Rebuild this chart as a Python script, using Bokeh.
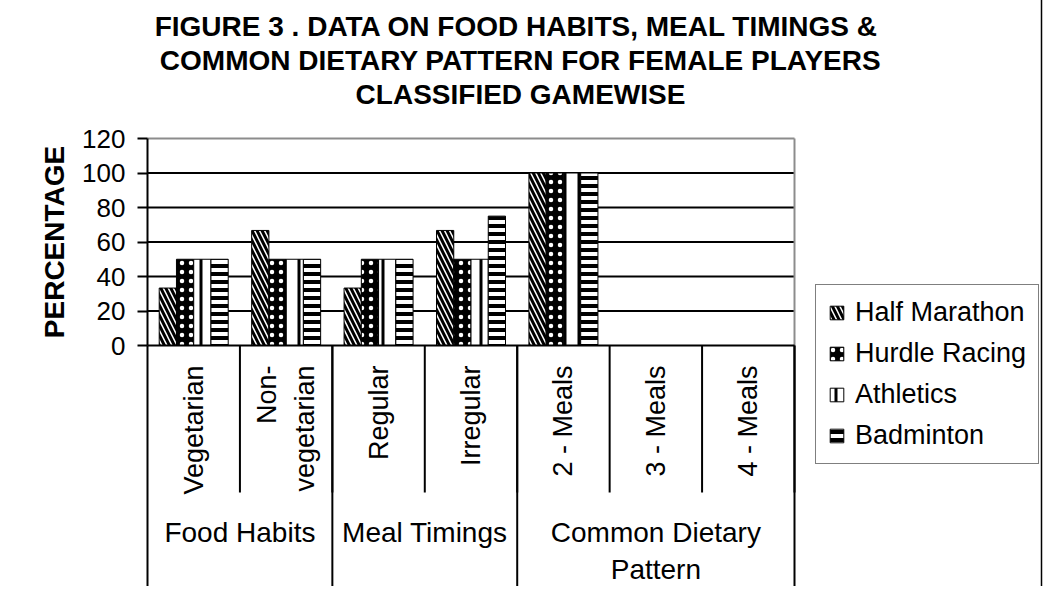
import math
from bokeh.plotting import figure
from bokeh.models import Range1d, FixedTicker, Label, Legend, LegendItem, ColumnDataSource
from bokeh.core.properties import value
from bokeh.embed import file_html
from bokeh.resources import INLINE

# ---------------- data ----------------
title_lines = [
    "FIGURE 3 .  DATA ON FOOD HABITS, MEAL TIMINGS &",
    "COMMON DIETARY PATTERN FOR FEMALE PLAYERS",
    "CLASSIFIED GAMEWISE",
]
y_label = "PERCENTAGE"
categories = ["Vegetarian", "Non-\nvegetarian", "Regular", "Irregular",
              "2 - Meals", "3 - Meals", "4 - Meals"]
groups = ["Food Habits", "Meal Timings", "Common Dietary\nPattern"]
group_sizes = [2, 2, 3]
series_names = ["Half Marathon", "Hurdle Racing", "Athletics", "Badminton"]
half_marathon = [33.3, 66.7, 33.3, 66.7, 100, 0, 0]
hurdle_racing = [50, 50, 50, 50, 100, 0, 0]
athletics = [50, 50, 50, 50, 100, 0, 0]
badminton = [50, 50, 50, 75, 100, 0, 0]
y_ticks = [0, 20, 40, 60, 80, 100, 120]
grid_ticks = [20, 40, 60, 80, 100]

# ---------------- layout / style (page pixels) ----------------
FONT = "Liberation Sans"
FIG_W, FIG_H = 1046, 589
CANVAS_X, CANVAS_Y = 5, 5              # canvas origin on the page (after css margin)
PLOT_L, PLOT_R = 155, 802              # category area, page px
ZERO_Y, TOP_Y = 353, 146               # y=0 and y=max tick, page px
n = len(categories)
y_max = y_ticks[-1]
ppx = (PLOT_R - PLOT_L) / n            # px per category
ppu = (ZERO_Y - TOP_Y) / y_max         # px per percent
canvas_r = CANVAS_X + FIG_W
canvas_b = CANVAS_Y + FIG_H


def X(px):
    return (px - PLOT_L) / ppx


def Y(py):
    return (ZERO_Y - py) / ppu


p = figure(width=FIG_W, height=FIG_H,
           x_range=Range1d(X(CANVAS_X), X(canvas_r)), y_range=Range1d(Y(canvas_b), Y(CANVAS_Y)),
           output_backend="svg", toolbar_location=None, x_axis_location=None,
           min_border_left=0, min_border_right=0, min_border_top=0,
           min_border_bottom=0, outline_line_color=None,
           background_fill_color="white", border_fill_color="white")
p.styles = {"margin-left": "-3px", "margin-top": "-3px", "margin-bottom": "-8px"}

# chart-area border (left, top, right; bottom is outside the picture)
bl, bt, br = X(CANVAS_X + 1), Y(CANVAS_Y + 1), X(canvas_r - 2)
bb = Y(canvas_b)
p.segment(x0=[bl, bl, br], y0=[bb, bt, bt], x1=[bl, br, br], y1=[bt, bt, bb],
          line_color="black", line_width=1.5)

# y axis, drawn at the left edge of the category area
ax = p.yaxis[0]
ax.fixed_location = 0
ax.bounds = (0, y_max)
ax.ticker = FixedTicker(ticks=y_ticks)
ax.minor_tick_line_color = None
ax.major_tick_in = 0
ax.major_tick_out = 10
ax.major_tick_line_width = 2
ax.major_tick_line_color = "black"
ax.axis_line_width = 2
ax.axis_line_color = "black"
ax.major_label_standoff = 12
ax.major_label_text_font = FONT
ax.major_label_text_font_size = "26px"
ax.major_label_text_color = "black"

p.xgrid.visible = False
p.ygrid.visible = False

# horizontal grid lines (black) within the plot area
p.segment(x0=[0] * len(grid_ticks), y0=grid_ticks, x1=[n] * len(grid_ticks), y1=grid_ticks,
          line_color="black", line_width=2)
# plot-area border (top + right, gray)
p.segment(x0=[0], y0=[y_max], x1=[n], y1=[y_max], line_color="#8c8c8c", line_width=2)
p.segment(x0=[n], y0=[0], x1=[n], y1=[y_max], line_color="#8c8c8c", line_width=2)

# bars
series_vals = [half_marathon, hurdle_racing, athletics, badminton]
bar_w = 17.25 / ppx
styles = [
    dict(fill_color="white", hatch_pattern="\\", hatch_color="black", hatch_weight=3, hatch_scale=10),
    dict(fill_color="black", hatch_pattern=".", hatch_color="white", hatch_weight=1, hatch_scale=9),
    dict(fill_color="white", hatch_pattern="|", hatch_color="black", hatch_weight=3, hatch_scale=14),
    dict(fill_color="white", hatch_pattern="-", hatch_color="black", hatch_weight=4, hatch_scale=8),
]
renderers = []
for j, (vals, st) in enumerate(zip(series_vals, styles)):
    xs = [i + 0.5 + (j - 1.5) * bar_w for i in range(n)]
    src = ColumnDataSource(dict(x=xs, top=vals))
    r = p.vbar(x="x", top="top", bottom=0, width=bar_w, source=src,
               line_color="black", line_width=1, **st)
    renderers.append(r)

# category axis line at zero
p.segment(x0=[0], y0=[0], x1=[n], y1=[0], line_color="black", line_width=2)

# separators: between categories (short) and between groups (to bottom)
sep_x = list(range(1, n + 1))
p.segment(x0=sep_x, y0=[0] * len(sep_x), x1=sep_x, y1=[Y(ZERO_Y + 147)] * len(sep_x),
          line_color="black", line_width=2)
bounds = [0]
for g in group_sizes:
    bounds.append(bounds[-1] + g)
p.segment(x0=bounds, y0=[0] * len(bounds), x1=bounds, y1=[Y(canvas_b)] * len(bounds),
          line_color="black", line_width=2)

# category labels (rotated)
p.text(x=[i + 0.5 for i in range(n)], y=[Y(ZERO_Y + 20)] * n, text=categories,
       angle=math.pi / 2, text_align="right", text_baseline="middle",
       text_font=value(FONT), text_font_size="27px", text_color="black",
       text_line_height=1.25)

# group labels
gcenters = [(a + b) / 2 for a, b in zip(bounds[:-1], bounds[1:])]
p.text(x=gcenters, y=[Y(ZERO_Y + 171)] * len(groups), text=groups,
       text_align="center", text_baseline="top",
       text_font=value(FONT), text_font_size="28px", text_color="black",
       text_line_height=1.2)

# title
title_y = [34, 68, 102]
for t, ty in zip(title_lines, title_y):
    p.add_layout(Label(x=X(528), y=Y(ty), text=t,
                       text_align="center", text_baseline="middle",
                       text_font=FONT, text_font_style="bold", text_font_size="28px",
                       text_color="black"))

# y axis title
p.add_layout(Label(x=X(62), y=Y((ZERO_Y + TOP_Y) / 2), text=y_label, angle=math.pi / 2,
                   text_align="center", text_baseline="middle",
                   text_font=FONT, text_font_style="bold", text_font_size="28px",
                   text_color="black"))

# legend
legend = Legend(items=[LegendItem(label=s, renderers=[r]) for s, r in zip(series_names, renderers)],
                location=(823 - CANVAS_X, canvas_b - 472))
legend.border_line_color = "black"
legend.border_line_width = 1.5
legend.background_fill_color = "white"
legend.background_fill_alpha = 1
legend.label_text_font = FONT
legend.label_text_font_size = "27px"
legend.label_text_color = "black"
legend.glyph_width = 17
legend.glyph_height = 17
legend.label_height = 30
legend.label_standoff = 10
legend.spacing = 10
legend.padding = 12
legend.margin = 0
p.add_layout(legend)

open("out.html", "w").write(file_html(p, INLINE))
